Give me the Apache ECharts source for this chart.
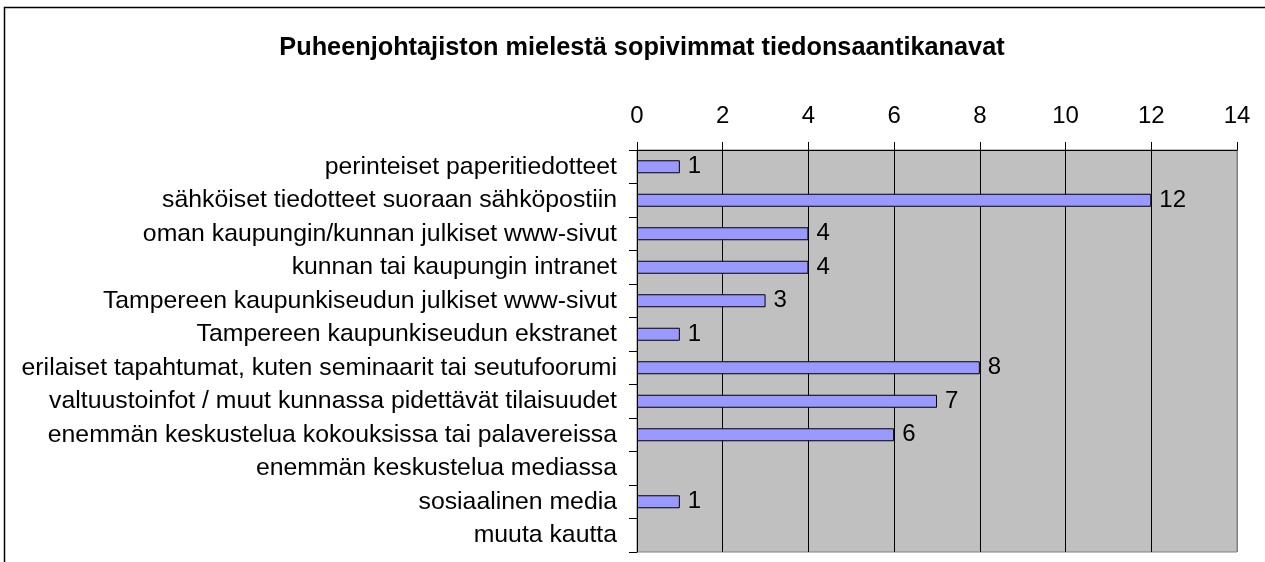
<!DOCTYPE html>
<html>
<head>
<meta charset="utf-8">
<script src="https://cdn.jsdelivr.net/npm/echarts@6/dist/echarts.min.js"></script>
<style>
  html, body { margin: 0; padding: 0; background: #fff; }
  #chart { width: 1265px; height: 562px; }
</style>
</head>
<body>
<div id="chart"></div>
<script>
// kanavat ylhäältä alas
var categories = [
  'perinteiset paperitiedotteet',
  'sähköiset tiedotteet suoraan sähköpostiin',
  'oman kaupungin/kunnan julkiset www-sivut',
  'kunnan tai kaupungin intranet',
  'Tampereen kaupunkiseudun julkiset www-sivut',
  'Tampereen kaupunkiseudun ekstranet',
  'erilaiset tapahtumat, kuten seminaarit tai seutufoorumi',
  'valtuustoinfot / muut kunnassa pidettävät tilaisuudet',
  'enemmän keskustelua kokouksissa tai palavereissa',
  'enemmän keskustelua mediassa',
  'sosiaalinen media',
  'muuta kautta'
];
var values = [1, 12, 4, 4, 3, 1, 8, 7, 6, null, 1, null];
var xTicks = [0, 2, 4, 6, 8, 10, 12, 14];

var font = 'Liberation Sans, Arial, sans-serif';
var myChart = echarts.init(document.getElementById('chart'));
var option = {
  animation: false,
  title: {
    text: 'Puheenjohtajiston mielestä sopivimmat tiedonsaantikanavat',
    left: 637,
    textAlign: 'center',
    top: 31,
    textStyle: { fontFamily: font, fontSize: 25.3, fontWeight: 'bold', color: '#000' }
  },
  graphic: [{
    type: 'rect',
    shape: { x: 4.5, y: 7.5, width: 1400, height: 700 },
    style: { fill: 'none', stroke: '#000', lineWidth: 1.5 },
    silent: true
  }],
  grid: {
    left: 637,
    right: 28,
    top: 150,
    bottom: 10,
    show: true,
    backgroundColor: '#C0C0C0',
    borderColor: '#808080',
    borderWidth: 1
  },
  xAxis: {
    type: 'value',
    position: 'top',
    min: 0,
    max: xTicks[xTicks.length - 1],
    interval: 2,
    axisLine: { show: true, lineStyle: { color: '#000', width: 1 } },
    axisTick: { show: true, length: 8, lineStyle: { color: '#000' } },
    axisLabel: { fontFamily: font, fontSize: 24, color: '#000', margin: 22 },
    splitLine: {
      show: true,
      lineStyle: { color: ['#000', '#000', '#000', '#000', '#000', '#000', '#000', '#808080'], width: 1 }
    }
  },
  yAxis: {
    type: 'category',
    inverse: true,
    data: categories,
    axisLine: { show: true, lineStyle: { color: '#000', width: 1 } },
    axisTick: { show: true, length: 8, lineStyle: { color: '#000' } },
    axisLabel: { fontFamily: font, fontSize: 24.8, color: '#000', margin: 20 }
  },
  series: [{
    type: 'bar',
    data: values,
    barWidth: 13,
    itemStyle: { color: '#9999FF', borderColor: '#000', borderWidth: 1 },
    label: {
      show: true,
      position: 'right',
      distance: 8,
      fontFamily: font,
      fontSize: 24,
      color: '#000'
    }
  }]
};
option && myChart.setOption(option);
</script>
</body>
</html>
